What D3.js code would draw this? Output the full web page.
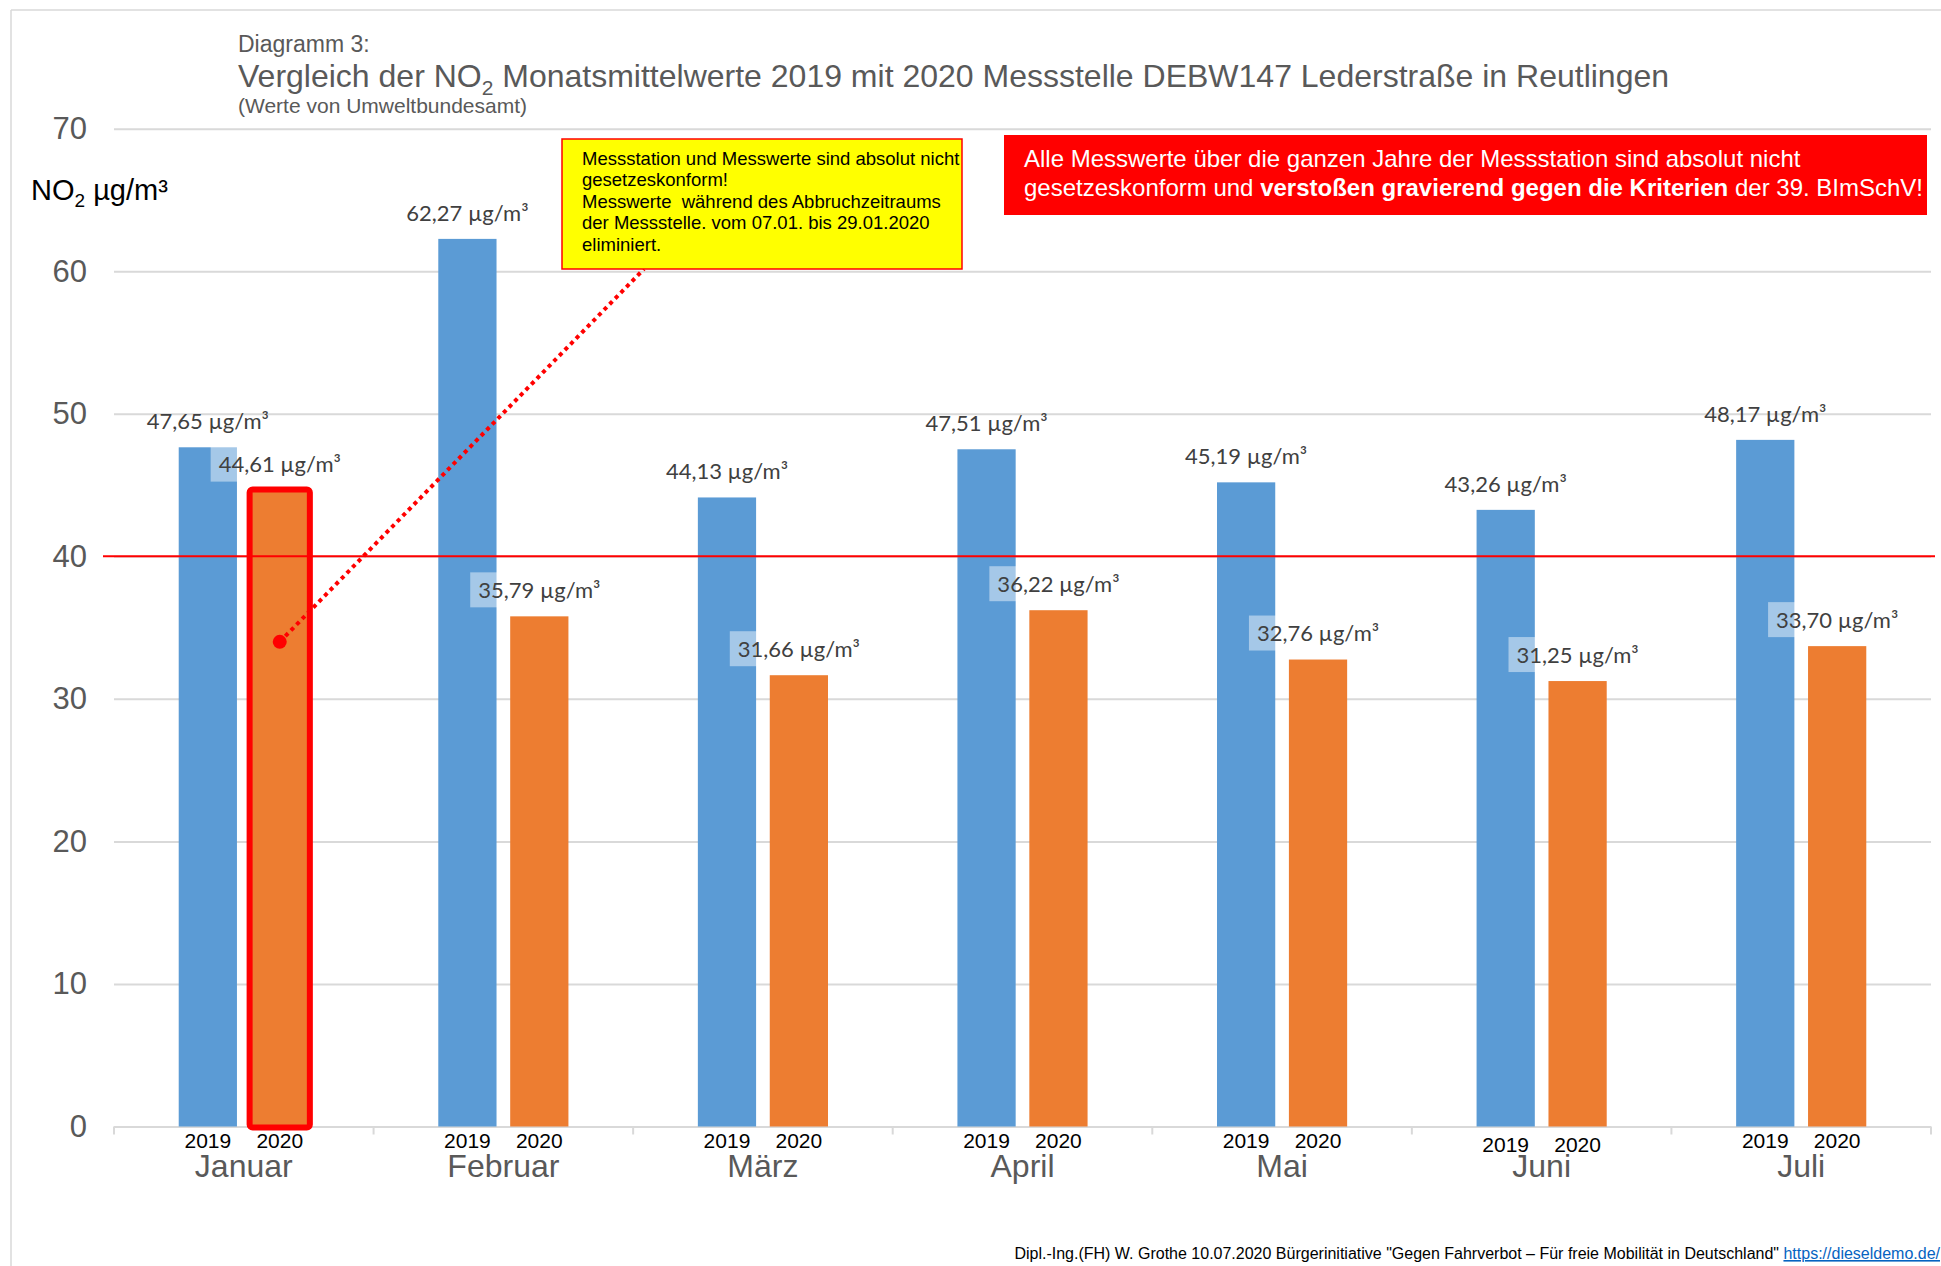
<!DOCTYPE html>
<html>
<head>
<meta charset="utf-8">
<script src="https://cdn.jsdelivr.net/npm/d3@7"></script>
<style>
body { margin: 0; background: #fff; }
svg { display: block; }
</style>
</head>
<body>
<script>
var months = ['Januar', 'Februar', 'März', 'April', 'Mai', 'Juni', 'Juli'];
var years = ['2019', '2020'];
var values2019 = [47.65, 62.27, 44.13, 47.51, 45.19, 43.26, 48.17];
var values2020 = [44.61, 35.79, 31.66, 36.22, 32.76, 31.25, 33.70];
var yTicks = [0, 10, 20, 30, 40, 50, 60, 70];
var limitValue = 40;
var markedMonth = 'Januar', markedYear = '2020', markedPoint = 34;

var yellowNote = [
  'Messstation und Messwerte sind absolut nicht',
  'gesetzeskonform!',
  'Messwerte  während des Abbruchzeitraums',
  'der Messstelle. vom 07.01. bis 29.01.2020',
  'eliminiert.'
];
var redNoteLine1 = 'Alle Messwerte über die ganzen Jahre der Messstation sind absolut nicht';
var redNoteLine2 = [
  {t: 'gesetzeskonform und ', b: false},
  {t: 'verstoßen gravierend gegen die Kriterien', b: true},
  {t: ' der 39. BImSchV!', b: false}
];

var width = 1941,
  height = 1266;

var blue = '#5B9BD5', orange = '#ED7D31', grey = '#595959', grid = '#D9D9D9';

var svg = d3.select('body').append('svg')
  .attr('width', width)
  .attr('height', height)
  .style('font-family', '"Liberation Sans", Arial, sans-serif');

var x = d3.scaleBand().domain(months).range([114, 1931]);
var xs = d3.scaleBand().domain(years).range([0, x.bandwidth()])
  .paddingInner(0.19).paddingOuter(0.9);
var y = d3.scaleLinear().domain([0, 70]).range([1126.5, 128.7]);

var rows = [];
months.forEach(function(m, i) {
  rows.push({month: m, year: '2019', value: values2019[i]});
  rows.push({month: m, year: '2020', value: values2020[i]});
});
function bx(d) { return x(d.month) + xs(d.year); }
function fmt(v) { return v.toFixed(2).replace('.', ','); }

// frame
svg.append('line').attr('x1', 11).attr('x2', 11).attr('y1', 10).attr('y2', height)
  .attr('stroke', grid).attr('stroke-width', 1.5);
svg.append('line').attr('x1', 11).attr('x2', width).attr('y1', 10).attr('y2', 10)
  .attr('stroke', grid).attr('stroke-width', 1.5);

// titles
svg.append('text').attr('x', 238).attr('y', 52).attr('fill', grey)
  .attr('font-size', 23).text('Diagramm 3:');
var t = svg.append('text').attr('x', 238).attr('y', 87).attr('fill', grey)
  .attr('font-size', 32);
t.append('tspan').text('Vergleich der NO');
t.append('tspan').attr('font-size', 21).attr('dy', 8).text('2');
t.append('tspan').attr('dy', -8).text(' Monatsmittelwerte 2019 mit 2020 Messstelle DEBW147 Lederstraße in Reutlingen');
svg.append('text').attr('x', 238).attr('y', 113).attr('fill', grey)
  .attr('font-size', 21).text('(Werte von Umweltbundesamt)');

// y axis + gridlines
var yAxis = svg.append('g')
  .attr('transform', 'translate(114,0)')
  .call(d3.axisLeft(y).tickValues(yTicks).tickSize(-(1931 - 114)).tickPadding(27));
yAxis.select('.domain').remove();
yAxis.selectAll('line').attr('stroke', grid).attr('stroke-width', 2);
yAxis.selectAll('text').attr('fill', grey).attr('font-size', 31)
  .style('font-family', '"Liberation Sans", Arial, sans-serif');

var yt = svg.append('text').attr('x', 31).attr('y', 200).attr('fill', '#000').attr('font-size', 29);
yt.append('tspan').text('NO');
yt.append('tspan').attr('font-size', 19).attr('dy', 7).text('2');
yt.append('tspan').attr('dy', -7).text(' µg/m³');

// x axis ticks at category boundaries
svg.append('g').selectAll('line')
  .data(months.concat(['end']))
  .enter().append('line')
    .attr('x1', function(d) { return d === 'end' ? x.range()[1] : x(d); })
    .attr('x2', function(d) { return d === 'end' ? x.range()[1] : x(d); })
    .attr('y1', y(0))
    .attr('y2', y(0) + 8)
    .attr('stroke', grid).attr('stroke-width', 2);

// bars
svg.append('g').selectAll('rect')
  .data(rows)
  .enter().append('rect')
    .attr('x', bx)
    .attr('y', function(d) { return y(d.value); })
    .attr('width', xs.bandwidth())
    .attr('height', function(d) { return y(0) - y(d.value); })
    .attr('fill', function(d) { return d.year === '2019' ? blue : orange; });

// limit line
svg.append('line')
  .attr('x1', 103).attr('x2', 1935)
  .attr('y1', y(limitValue)).attr('y2', y(limitValue))
  .attr('stroke', '#FF0000').attr('stroke-width', 2);

// data labels
var lab = svg.append('g').selectAll('g')
  .data(rows)
  .enter().append('g')
    .attr('transform', function(d) {
      return 'translate(' + (bx(d) + xs.bandwidth() / 2) + ',' + (y(d.value) - 26) + ')';
    });
lab.append('text')
  .attr('text-anchor', 'middle')
  .attr('dy', '0.35em')
  .attr('fill', '#404040')
  .attr('font-size', 22)
  .style('font-family', 'Lato, "Open Sans", sans-serif')
  .text(function(d) { return fmt(d.value) + ' µg/m³'; })
  .each(function(d) {
    if (d.year !== '2020') return;
    var w = this.getComputedTextLength();
    d3.select(this.parentNode).insert('rect', 'text')
      .attr('x', -w / 2 - 8).attr('y', -18)
      .attr('width', w + 16).attr('height', 35)
      .attr('fill', '#fff').attr('fill-opacity', 0.45);
  });

// year + month labels
svg.append('g').selectAll('text')
  .data(rows)
  .enter().append('text')
    .attr('x', function(d) { return bx(d) + xs.bandwidth() / 2; })
    .attr('y', function(d) { return y(0) + (d.month === 'Juni' ? 25 : 21); })
    .attr('text-anchor', 'middle')
    .attr('fill', '#000')
    .attr('font-size', 21)
    .text(function(d) { return d.year; });

svg.append('g').selectAll('text')
  .data(months)
  .enter().append('text')
    .attr('x', function(d) { return x(d) + x.bandwidth() / 2; })
    .attr('y', y(0) + 50)
    .attr('text-anchor', 'middle')
    .attr('fill', grey)
    .attr('font-size', 32)
    .text(function(d) { return d; });

// highlighted bar
var mi = months.indexOf(markedMonth);
var mv = markedYear === '2020' ? values2020[mi] : values2019[mi];
var mx = x(markedMonth) + xs(markedYear);
svg.append('rect')
  .attr('x', mx - 1).attr('y', y(mv) - 1)
  .attr('width', xs.bandwidth() + 2).attr('height', y(0) - y(mv) + 2)
  .attr('rx', 3)
  .attr('fill', 'none').attr('stroke', '#FF0000').attr('stroke-width', 6);

// yellow note
var yb = {x: 562, y: 139, w: 400, h: 130};
var pcx = mx + xs.bandwidth() / 2, pcy = y(markedPoint);
svg.append('line')
  .attr('x1', pcx).attr('y1', pcy)
  .attr('x2', 644).attr('y2', yb.y + yb.h)
  .attr('stroke', '#FF0000').attr('stroke-width', 4)
  .attr('stroke-dasharray', '4,4');
svg.append('circle').attr('cx', pcx).attr('cy', pcy).attr('r', 7).attr('fill', '#FF0000');

svg.append('rect')
  .attr('x', yb.x).attr('y', yb.y).attr('width', yb.w).attr('height', yb.h)
  .attr('fill', '#FFFF00').attr('stroke', '#FF0000').attr('stroke-width', 1.5);
svg.append('g').selectAll('text')
  .data(yellowNote)
  .enter().append('text')
    .attr('x', 582)
    .attr('y', function(d, i) { return 165 + i * 21.4; })
    .attr('font-size', 18.5)
    .attr('fill', '#000')
    .style('white-space', 'pre')
    .text(function(d) { return d; });

// red note
svg.append('rect')
  .attr('x', 1004).attr('y', 135).attr('width', 923).attr('height', 80)
  .attr('fill', '#FF0000');
svg.append('text').attr('x', 1024).attr('y', 167).attr('fill', '#fff')
  .attr('font-size', 24).text(redNoteLine1);
svg.append('text').attr('x', 1024).attr('y', 196).attr('fill', '#fff')
  .attr('font-size', 24)
  .selectAll('tspan')
  .data(redNoteLine2)
  .enter().append('tspan')
    .attr('font-weight', function(d) { return d.b ? 'bold' : 'normal'; })
    .text(function(d) { return d.t; });

// footer
var ft = svg.append('text').attr('x', 1940).attr('y', 1259)
  .attr('text-anchor', 'end').attr('font-size', 16).attr('fill', '#000');
ft.append('tspan').text('Dipl.-Ing.(FH) W. Grothe 10.07.2020 Bürgerinitiative "Gegen Fahrverbot – Für freie Mobilität in Deutschland" ');
ft.append('tspan').attr('fill', '#0563C1').attr('text-decoration', 'underline').text('https://dieseldemo.de/');
</script>
</body>
</html>
